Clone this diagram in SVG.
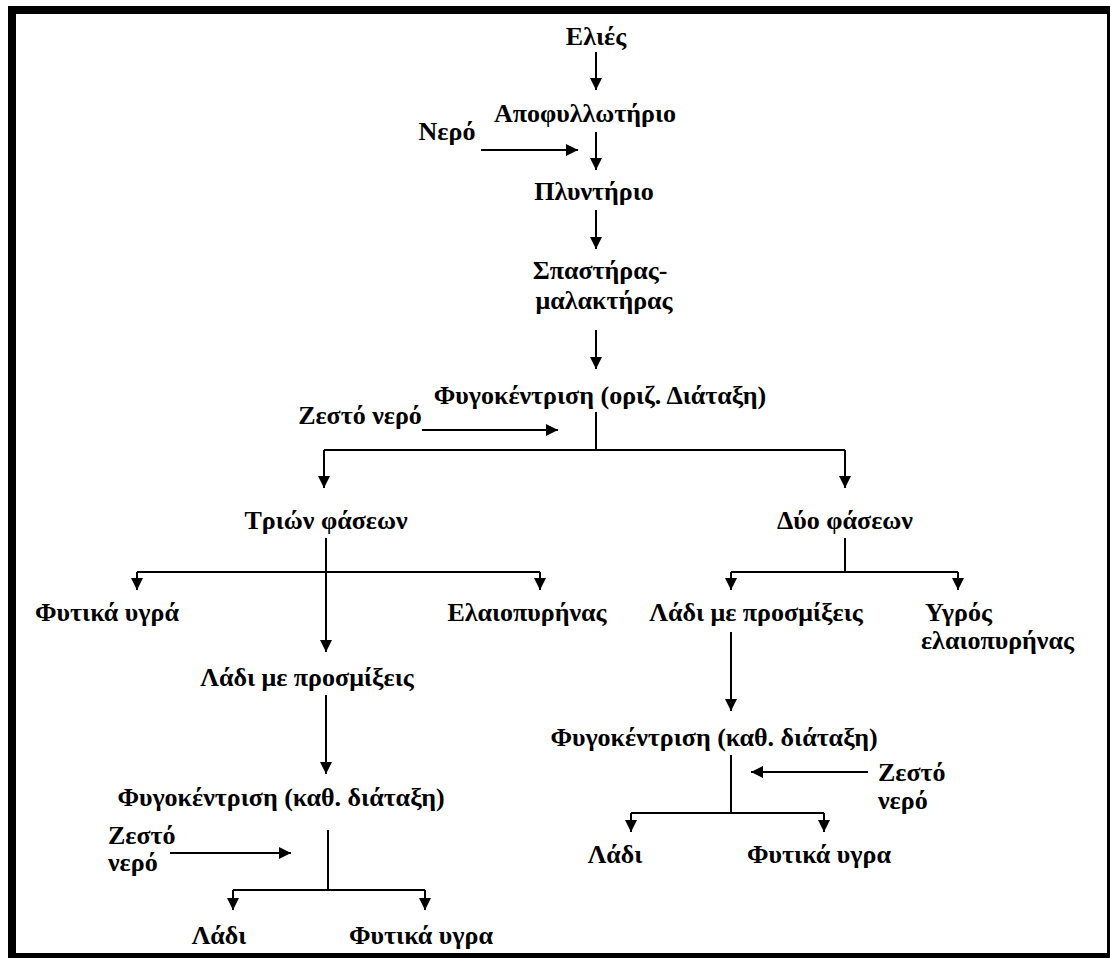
<svg xmlns="http://www.w3.org/2000/svg" width="1110" height="958" viewBox="0 0 1110 958">
  <style>
    .lbl { font-family: "Liberation Serif", "Times New Roman", serif; font-weight: bold; font-size: 26px; fill: #000; }
    .mid { text-anchor: middle; }
    .ln { stroke: #000; stroke-width: 2; fill: none; }
    .ar { stroke: #000; stroke-width: 2; fill: none; marker-end: url(#head); }
  </style>
  <defs>
    <marker id="head" markerUnits="userSpaceOnUse" markerWidth="12" markerHeight="12" refX="12" refY="6" orient="auto">
      <path d="M0,0 L12,6 L0,12 z" fill="#000"/>
    </marker>
  </defs>

  <!-- page background and frame -->
  <rect x="0" y="0" width="1110" height="958" fill="#fff"/>
  <rect x="8" y="6" width="1102" height="8" fill="#000"/>
  <rect x="8" y="6" width="8" height="952" fill="#000"/>
  <rect x="1107" y="6" width="3" height="952" fill="#000"/>
  <rect x="8" y="953" width="1102" height="5" fill="#000"/>

  <!-- connectors -->
  <g id="connectors">
    <line class="ar" x1="596" y1="52" x2="596" y2="90"/>
    <line class="ar" x1="481" y1="150" x2="578" y2="150"/>
    <line class="ar" x1="596" y1="132" x2="596" y2="170"/>
    <line class="ar" x1="596" y1="210" x2="596" y2="249"/>
    <line class="ar" x1="596" y1="330" x2="596" y2="369"/>

    <line class="ar" x1="422" y1="430" x2="558" y2="430"/>
    <polyline class="ln" points="596,412 596,450"/>
    <polyline class="ln" points="324,450 845,450"/>
    <line class="ar" x1="324" y1="450" x2="324" y2="488"/>
    <line class="ar" x1="845" y1="450" x2="845" y2="488"/>

    <!-- three-phase branch -->
    <line class="ar" x1="326" y1="538" x2="326" y2="652"/>
    <polyline class="ln" points="137,572 540,572"/>
    <line class="ar" x1="137" y1="572" x2="137" y2="590"/>
    <line class="ar" x1="540" y1="572" x2="540" y2="590"/>
    <line class="ar" x1="326" y1="695" x2="326" y2="774"/>
    <line class="ar" x1="170" y1="853" x2="291" y2="853"/>
    <polyline class="ln" points="328,830 328,890"/>
    <polyline class="ln" points="233,890 425,890"/>
    <line class="ar" x1="233" y1="890" x2="233" y2="910"/>
    <line class="ar" x1="425" y1="890" x2="425" y2="910"/>

    <!-- two-phase branch -->
    <polyline class="ln" points="845,538 845,572"/>
    <polyline class="ln" points="731,572 958,572"/>
    <line class="ar" x1="731" y1="572" x2="731" y2="590"/>
    <line class="ar" x1="958" y1="572" x2="958" y2="590"/>
    <line class="ar" x1="731" y1="632" x2="731" y2="711"/>
    <polyline class="ln" points="731,755 731,813"/>
    <line class="ar" x1="868" y1="772" x2="751" y2="772"/>
    <polyline class="ln" points="631,813 824,813"/>
    <line class="ar" x1="631" y1="813" x2="631" y2="832"/>
    <line class="ar" x1="824" y1="813" x2="824" y2="832"/>
  </g>

  <!-- nodes -->
  <g id="n-olives"><text class="lbl mid" x="596" y="45">Ελιές</text></g>
  <g id="n-defoliator"><text class="lbl mid" x="585" y="122">Αποφυλλωτήριο</text></g>
  <g id="n-water1"><text class="lbl mid" x="447" y="140">Νερό</text></g>
  <g id="n-washer"><text class="lbl mid" x="594" y="200">Πλυντήριο</text></g>
  <g id="n-crusher">
    <text class="lbl mid" x="600" y="279">Σπαστήρας-</text>
    <text class="lbl mid" x="604" y="309">μαλακτήρας</text>
  </g>
  <g id="n-centrifuge-h"><text class="lbl mid" x="600" y="404">Φυγοκέντριση (οριζ. Διάταξη)</text></g>
  <g id="n-hotwater1"><text class="lbl mid" x="360" y="424">Ζεστό νερό</text></g>
  <g id="n-three-phase"><text class="lbl mid" x="326" y="529">Τριών φάσεων</text></g>
  <g id="n-two-phase"><text class="lbl mid" x="845" y="529">Δύο φάσεων</text></g>

  <g id="n-veg-water1"><text class="lbl mid" x="107" y="621">Φυτικά υγρά</text></g>
  <g id="n-pomace"><text class="lbl mid" x="527" y="621">Ελαιοπυρήνας</text></g>
  <g id="n-crude-oil1"><text class="lbl mid" x="307" y="686">Λάδι με προσμίξεις</text></g>
  <g id="n-centrifuge-v1"><text class="lbl mid" x="281" y="806">Φυγοκέντριση (καθ. διάταξη)</text></g>
  <g id="n-hotwater2">
    <text class="lbl" x="108" y="844">Ζεστό</text>
    <text class="lbl" x="108" y="871">νερό</text>
  </g>
  <g id="n-oil1"><text class="lbl mid" x="219" y="944">Λάδι</text></g>
  <g id="n-veg-water2"><text class="lbl mid" x="421" y="944">Φυτικά υγρα</text></g>

  <g id="n-crude-oil2"><text class="lbl mid" x="756" y="621">Λάδι με προσμίξεις</text></g>
  <g id="n-wet-pomace">
    <text class="lbl" x="925" y="621">Υγρός</text>
    <text class="lbl" x="921" y="649">ελαιοπυρήνας</text>
  </g>
  <g id="n-centrifuge-v2"><text class="lbl mid" x="714" y="746">Φυγοκέντριση (καθ. διάταξη)</text></g>
  <g id="n-hotwater3">
    <text class="lbl" x="878" y="781">Ζεστό</text>
    <text class="lbl" x="878" y="809">νερό</text>
  </g>
  <g id="n-oil2"><text class="lbl mid" x="615" y="863">Λάδι</text></g>
  <g id="n-veg-water3"><text class="lbl mid" x="819" y="863">Φυτικά υγρα</text></g>
</svg>
